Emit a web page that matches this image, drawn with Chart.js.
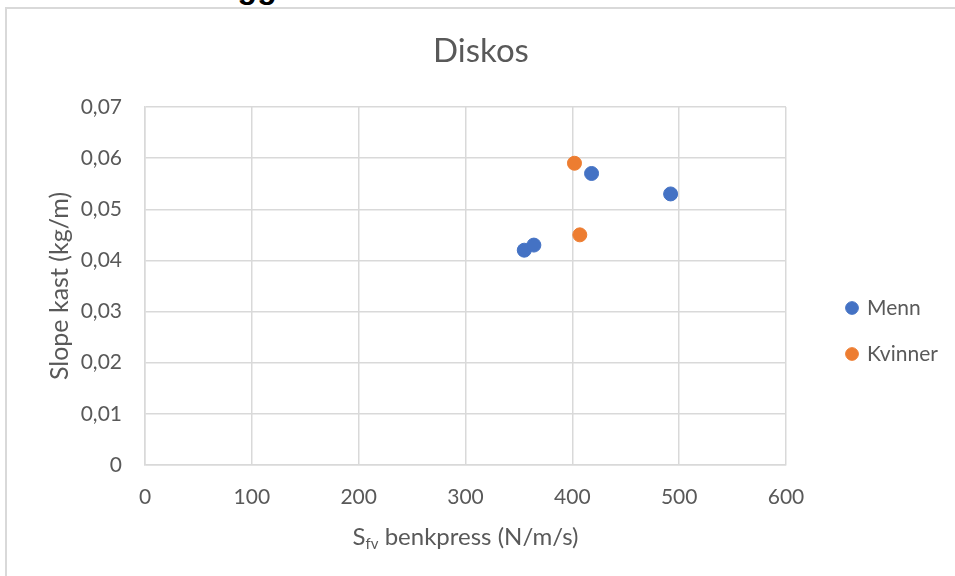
<!DOCTYPE html>
<html><head><meta charset="utf-8">
<script src="https://cdn.jsdelivr.net/npm/chart.js@4.4.0/dist/chart.umd.min.js"></script>
<style>
html,body{margin:0;padding:0;background:#fff;overflow:hidden;width:955px;height:576px;}
#head{position:absolute;left:154px;top:-29px;font:bold 32px "Liberation Sans";line-height:32px;color:#000;white-space:nowrap;}
#box{position:absolute;left:5px;top:7px;width:970px;height:590px;border:2px solid #d9d9d9;box-sizing:border-box;}
#wrap{position:absolute;left:7px;top:9px;width:948px;height:567px;}
</style></head>
<body>
<div id="head">Vedlegg</div>
<div id="box"></div>
<div id="wrap"><canvas id="c"></canvas></div>
<script>
const chartTitle = 'Diskos';
const seriesNames = ['Menn', 'Kvinner'];
const menX = [355, 364, 418, 492];
const menY = [0.042, 0.043, 0.057, 0.053];
const womenX = [402, 407];
const womenY = [0.059, 0.045];
const xTickLabels = ['0', '100', '200', '300', '400', '500', '600'];
const yTickLabels = ['0', '0,01', '0,02', '0,03', '0,04', '0,05', '0,06', '0,07'];
const yTitle = 'Slope kast (kg/m)';
const xTitleMain = 'S';
const xTitleSub = 'fv';
const xTitleRest = ' benkpress (N/m/s)';

const FONT = 'Lato';
const TXT = '#595959';
const GRID = '#d9d9d9';

const toPts = (xs, ys) => xs.map((x, i) => ({x: x, y: ys[i]}));

const layoutFix = {
  id: 'layoutFix',
  afterInit(chart) {
    const lg = chart.legend;
    const of = lg.fit.bind(lg);
    lg.fit = function () { of(); this.width = 169; };
  },
  afterLayout(chart) {
    const lg = chart.legend;
    lg.left += 36.5; lg.right += 36.5;
    lg.top += 38.5; lg.bottom += 38.5;
  }
};

const xTitlePlugin = {
  id: 'xTitlePlugin',
  afterDraw(chart) {
    const ctx = chart.ctx;
    const ca = chart.chartArea;
    const big = '24px ' + FONT, small = '15px ' + FONT;
    ctx.save();
    ctx.fillStyle = TXT;
    ctx.textBaseline = 'alphabetic';
    ctx.textAlign = 'left';
    ctx.font = big;
    const w1 = ctx.measureText(xTitleMain).width;
    const w3 = ctx.measureText(xTitleRest).width;
    ctx.font = small;
    const w2 = ctx.measureText(xTitleSub).width;
    const total = w1 + w2 + w3;
    let x = (ca.left + ca.right) / 2 - total / 2;
    const base = 536;
    ctx.font = big;
    ctx.fillText(xTitleMain, x, base);
    x += w1;
    ctx.font = small;
    ctx.fillText(xTitleSub, x, base + 4);
    x += w2;
    ctx.font = big;
    ctx.fillText(xTitleRest, x, base);
    ctx.restore();
  }
};

new Chart(document.getElementById('c'), {
  type: 'scatter',
  data: {
    datasets: [
      {label: seriesNames[0], data: toPts(menX, menY), backgroundColor: '#4472C4', borderColor: '#4472C4', borderWidth: 1, pointRadius: 7, pointHoverRadius: 7, pointStyle: 'circle'},
      {label: seriesNames[1], data: toPts(womenX, womenY), backgroundColor: '#ED7D31', borderColor: '#ED7D31', borderWidth: 1, pointRadius: 7, pointHoverRadius: 7, pointStyle: 'circle'}
    ]
  },
  options: {
    responsive: true,
    maintainAspectRatio: false,
    animation: false,
    events: [],
    layout: {padding: 0},
    plugins: {
      title: {display: true, text: chartTitle, color: TXT, font: {family: FONT, size: 33, weight: 'normal'}, padding: {top: 23, bottom: 35.4}},
      legend: {
        position: 'right',
        labels: {usePointStyle: true, pointStyle: 'circle', boxWidth: 9, boxHeight: 9, padding: 25, color: TXT, font: {family: FONT, size: 21}}
      },
      tooltip: {enabled: false}
    },
    scales: {
      x: {
        type: 'linear', min: 0, max: 600,
        afterFit(s) { s.height = 111; },
        grid: {color: GRID, lineWidth: 1.5, drawTicks: false},
        border: {color: GRID, width: 1.5},
        ticks: {stepSize: 100, padding: 20, color: TXT, font: {family: FONT, size: 21},
          callback: (v) => xTickLabels[Math.round(v / 100)]}
      },
      y: {
        type: 'linear', min: 0, max: 0.07,
        afterFit(s) { s.width = 138; },
        grid: {color: GRID, lineWidth: 1.5, drawTicks: false},
        border: {color: GRID, width: 1.5},
        title: {display: true, text: yTitle, color: TXT, font: {family: FONT, size: 25}, padding: {top: 38, bottom: 0}},
        ticks: {stepSize: 0.01, padding: 23, color: TXT, font: {family: FONT, size: 21},
          callback: (v) => yTickLabels[Math.round(v * 100)]}
      }
    }
  },
  plugins: [layoutFix, xTitlePlugin]
});
</script>
</body></html>
